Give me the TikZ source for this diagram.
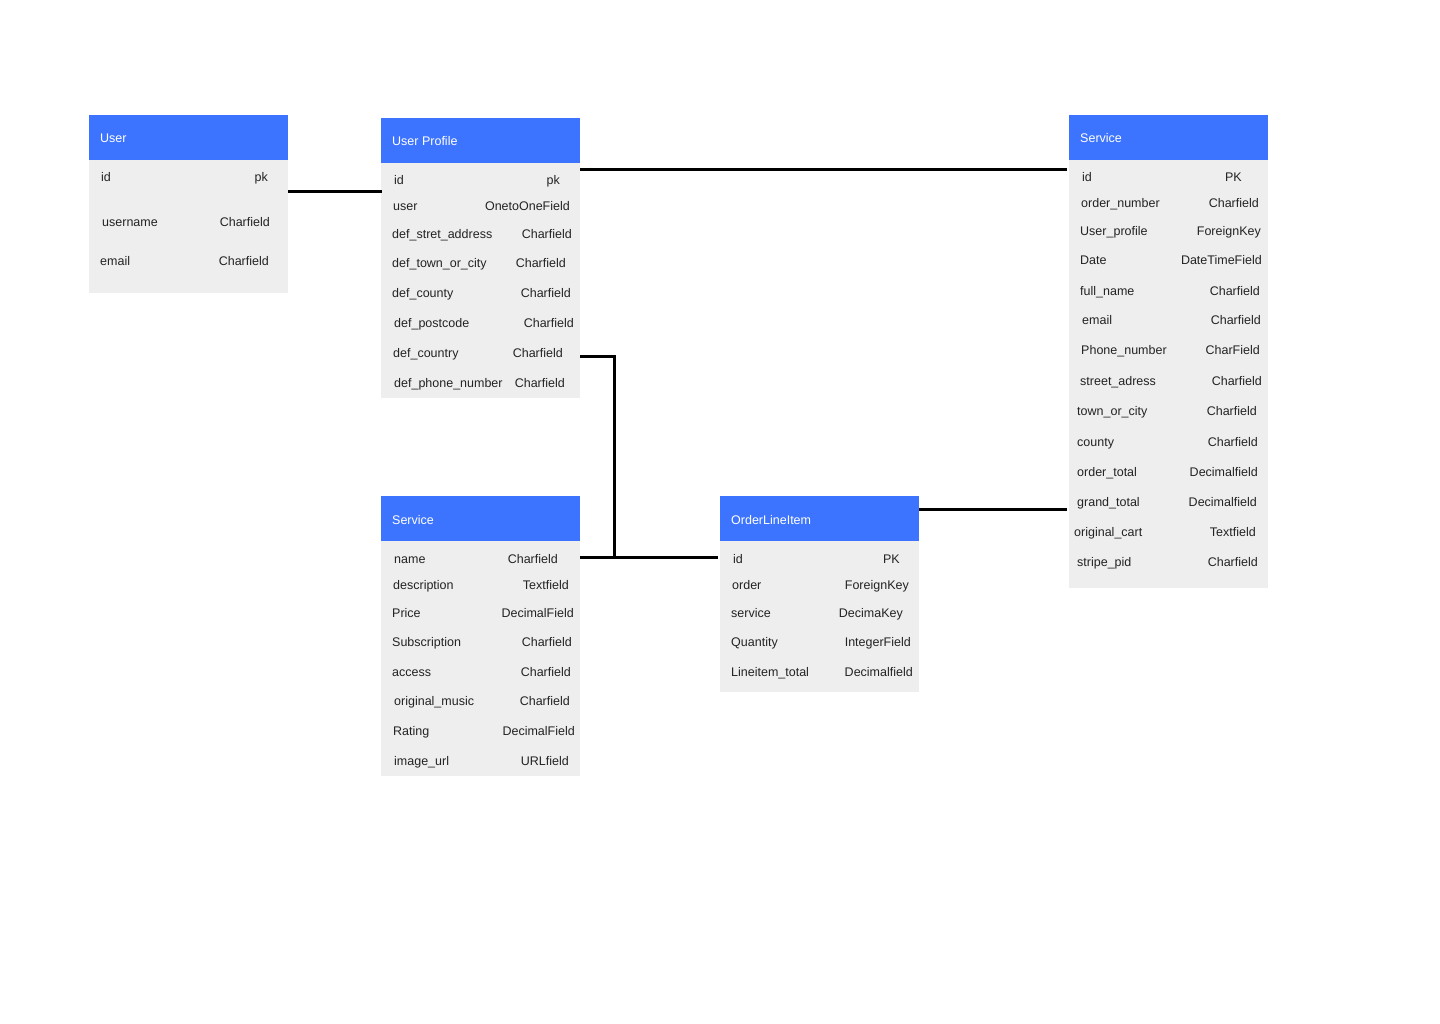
\documentclass[tikz,border=0pt]{standalone}
\usepackage{fontspec}
\setmainfont{Liberation Sans}
\definecolor{hdr}{RGB}{61,116,255}
\definecolor{bodyc}{RGB}{238,238,238}
\definecolor{txt}{RGB}{35,35,35}
\begin{document}
\begin{tikzpicture}[x=1pt,y=-1pt,
  hbox/.style={fill=hdr,draw=none,inner sep=0,anchor=north west,minimum width=199pt,minimum height=45pt},
  bbox/.style={fill=bodyc,draw=none,inner sep=0,anchor=north west,minimum width=199pt},
  ttl/.style={text=white,font=\fontsize{12.5}{15}\selectfont,inner sep=0,anchor=west,text height=11pt,text depth=1pt},
  fld/.style={text=txt,font=\fontsize{12.5}{15}\selectfont,inner sep=0,text height=11pt,text depth=1pt},
  fl/.style={fld,anchor=west},
  fr/.style={fld,anchor=east},
  conn/.style={line width=3pt,black}]
\useasboundingbox[fill=white] (0,0) rectangle (1440,1024);

% ---- User
\node[hbox] (uh) at (89,115) {};
\node[bbox,minimum height=133pt] (ub) at (89,160) {};
\node[ttl] (ut) at (100,138) {User};
\foreach \i/\lx/\y/\l/\rx/\r in {1/101/177/id/268/pk,2/102/222/username/270/Charfield,3/100/261/email/269/Charfield}{
  \node[fl] (u-\i-l) at (\lx,\y) {\l};
  \node[fr] (u-\i-r) at (\rx,\y) {\r};
}

% ---- User Profile
\node[hbox] (uph) at (381,118) {};
\node[bbox,minimum height=235pt] (upb) at (381,163) {};
\node[ttl] (upt) at (392,141) {User Profile};
\foreach \i/\lx/\y/\l/\rx/\r in {
  1/394/180/id/560/pk,
  2/393/206/user/570/OnetoOneField,
  3/392/234/def\_stret\_address/572/Charfield,
  4/392/263/def\_town\_or\_city/566/Charfield,
  5/392/293/def\_county/571/Charfield,
  6/394/322/def\_postcode/574/Charfield,
  7/393/352/def\_country/563/Charfield,
  8/394/382/def\_phone\_number/565/Charfield}{
  \node[fl] (up-\i-l) at (\lx,\y) {\l};
  \node[fr] (up-\i-r) at (\rx,\y) {\r};
}

% ---- Service (right)
\node[hbox] (srh) at (1069,115) {};
\node[bbox,minimum height=428pt] (srb) at (1069,160) {};
\node[ttl] (srt) at (1080,138) {Service};
\foreach \i/\lx/\y/\l/\rx/\r in {
  1/1082/177/id/1242/PK,
  2/1081/203/order\_number/1259/Charfield,
  3/1080/231/User\_profile/1261/ForeignKey,
  4/1080/260/Date/1262/DateTimeField,
  5/1080/290/full\_name/1260/Charfield,
  6/1082/319/email/1261/Charfield,
  7/1081/349/Phone\_number/1260/CharField,
  8/1080/380/street\_adress/1262/Charfield,
  9/1077/410/town\_or\_city/1257/Charfield,
  10/1077/441/county/1258/Charfield,
  11/1077/471/order\_total/1258/Decimalfield,
  12/1077/501/grand\_total/1257/Decimalfield,
  13/1074/531/original\_cart/1256/Textfield,
  14/1077/561/stripe\_pid/1258/Charfield}{
  \node[fl] (sr-\i-l) at (\lx,\y) {\l};
  \node[fr] (sr-\i-r) at (\rx,\y) {\r};
}

% ---- Service (bottom)
\node[hbox] (sbh) at (381,496) {};
\node[bbox,minimum height=235pt] (sbb) at (381,541) {};
\node[ttl] (sbt) at (392,519) {Service};
\foreach \i/\lx/\y/\l/\rx/\r in {
  1/394/558/name/558/Charfield,
  2/393/584/description/569/Textfield,
  3/392/612/Price/574/DecimalField,
  4/392/641/Subscription/572/Charfield,
  5/392/671/access/571/Charfield,
  6/394/700/original\_music/570/Charfield,
  7/393/730/Rating/575/DecimalField,
  8/394/760/image\_url/569/URLfield}{
  \node[fl] (sb-\i-l) at (\lx,\y) {\l};
  \node[fr] (sb-\i-r) at (\rx,\y) {\r};
}

% ---- OrderLineItem
\node[hbox] (olh) at (720,496) {};
\node[bbox,minimum height=151pt] (olb) at (720,541) {};
\node[ttl] (olt) at (731,519) {OrderLineItem};
\foreach \i/\lx/\y/\l/\rx/\r in {
  1/733/558/id/900/PK,
  2/732/584/order/909/ForeignKey,
  3/731/612/service/903/DecimaKey,
  4/731/641/Quantity/911/IntegerField,
  5/731/671/Lineitem\_total/913/Decimalfield}{
  \node[fl] (ol-\i-l) at (\lx,\y) {\l};
  \node[fr] (ol-\i-r) at (\rx,\y) {\r};
}

% ---- connectors
\coordinate (j) at (614,557);
\draw[conn] (ub.east |- 0,192) -- ([xshift=1pt]upb.west |- 0,192);
\draw[conn] (upb.east |- 0,170) -- ([xshift=-2pt]srb.west |- 0,170);
\draw[conn] (upb.east |- 0,356) -| (j);
\draw[conn] (sbb.east |- j) -- ([xshift=-2pt]olb.west |- j);
\draw[conn] (olh.east |- 0,509) -- ([xshift=-2pt]srb.west |- 0,509);
\end{tikzpicture}
\end{document}
